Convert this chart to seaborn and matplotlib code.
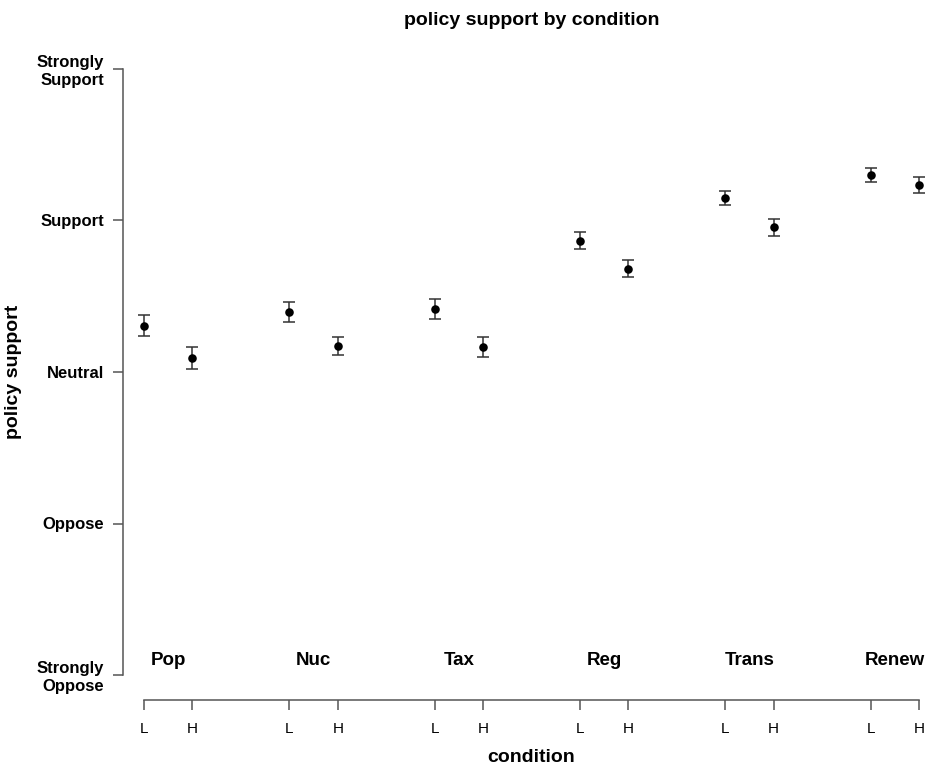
import pandas as pd
import seaborn as sns
import matplotlib.pyplot as plt

# --- Data ---
conditions = ["Pop", "Nuc", "Tax", "Reg", "Trans", "Renew"]
levels = ["L", "H"]
support_low = [3.306, 3.396, 3.416, 3.867, 4.149, 4.300]
support_high = [3.090, 3.172, 3.165, 3.682, 3.955, 4.234]
se_low = [0.068, 0.064, 0.066, 0.056, 0.048, 0.046]
se_high = [0.072, 0.060, 0.063, 0.058, 0.057, 0.051]
scale_values = [1, 2, 3, 4, 5]
scale_labels = ["Strongly\nOppose", "Oppose", "Neutral", "Support", "Strongly\nSupport"]

# long format, one row per condition x level
rows = []
for i, cond in enumerate(conditions):
    for j, (lvl, m, se) in enumerate(zip(levels, [support_low[i], support_high[i]],
                                         [se_low[i], se_high[i]])):
        rows.append({"condition": cond, "level": lvl, "pos": i * 3 + j + 1,
                     "support": m, "se": se})
df = pd.DataFrame(rows)

sns.set_theme(style="ticks", rc={"text.color": "black", "axes.labelcolor": "black",
                                 "xtick.color": "black", "ytick.color": "black"})
plt.rcParams["font.family"] = ["Liberation Sans", "DejaVu Sans"]

AXIS_COL = "#555555"

fig = plt.figure(figsize=(9.35, 7.69), dpi=100)
ax = fig.add_axes([144 / 935, 94 / 769, 775 / 935, 606 / 769])

sns.scatterplot(data=df, x="pos", y="support", color="black", s=38, linewidth=0,
                clip_on=False, zorder=3, legend=False, ax=ax)
eb = ax.errorbar(df["pos"], df["support"], yerr=df["se"], fmt="none",
                 ecolor="#333333", elinewidth=1.1, capsize=4, capthick=1.1)
for art in eb.get_children():
    art.set_clip_on(False)

ax.set_xlim(1, 17)
ax.set_ylim(1, 5)
ax.set_xticks(df["pos"])
ax.set_yticks(scale_values)
sns.despine(ax=ax, offset={"left": 15, "bottom": 18}, trim=True)
for side in ["left", "bottom"]:
    ax.spines[side].set_color(AXIS_COL)
    ax.spines[side].set_linewidth(1.1)

# labels set after despine (trim resets the tick labels)
ax.set_xticks(df["pos"], df["level"], fontsize=11)
ax.set_yticks(scale_values, scale_labels, fontsize=12, fontweight="bold")
ax.tick_params(axis="both", length=7.2, width=1.1, color=AXIS_COL, labelcolor="black")
ax.tick_params(axis="x", pad=8.6)
ax.tick_params(axis="y", pad=6.5)

# group names inside the plot area
for i, cond in enumerate(conditions):
    ax.text(i * 3 + 1.5, 1.066, cond, ha="center", va="baseline",
            fontsize=13.5, fontweight="bold")

ax.set_title("policy support by condition", fontsize=14, fontweight="bold", pad=31.7)
ax.set_xlabel("condition", fontsize=14, fontweight="bold")
ax.xaxis.set_label_coords(0.5, -0.122)
ax.set_ylabel("policy support", fontsize=14, fontweight="bold")
ax.yaxis.set_label_coords(-0.157, 0.5)

fig.savefig("out.png", dpi=100)
